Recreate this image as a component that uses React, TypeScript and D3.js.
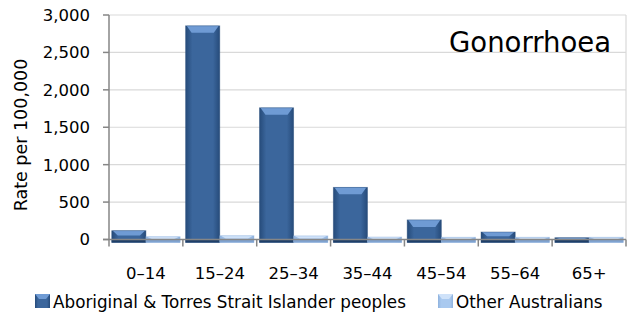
import React from "react";
import * as d3 from "d3";

const ageGroups = ["0–14", "15–24", "25–34", "35–44", "45–54", "55–64", "65+"];
const indigenousRates = [118, 2855, 1760, 697, 262, 100, 24];
const otherRates = [37, 50, 48, 33, 30, 30, 30];
const yTicks = [0, 500, 1000, 1500, 2000, 2500, 3000];
const seriesNames = ["Aboriginal & Torres Strait Islander peoples", "Other Australians"];

const W = 634;
const H = 315;
const margin = { top: 15, right: 8, bottom: 75.5, left: 109 };
const FONT = "DejaVu Sans, sans-serif";

const darkFill = { base: "#3b669c", edge: "#264b7a", top: "#6f9bd4", bottom: "#1f3f68" };
const lightFill = { base: "#a9c9ef", edge: "#8fb2de", top: "#cfe2f9", bottom: "#7fa2cf" };

function Bar({ x, y, w, h, pal, id }: { x: number; y: number; w: number; h: number; pal: typeof darkFill; id: string }) {
  const bevel = Math.min(7, h * 0.4);
  const inset = Math.min(6, w * 0.18);
  return (
    <g>
      <rect x={x} y={y} width={w} height={h} fill={`url(#${id})`} />
      <polygon
        points={`${x + 1},${y} ${x + w - 1},${y} ${x + w - inset},${y + bevel} ${x + inset},${y + bevel}`}
        fill={pal.top}
      />
      <rect x={x} y={y + h - 3} width={w} height={3} fill={pal.bottom} />
      <rect x={x} y={y} width={w} height={h} fill="none" stroke={pal.edge} strokeOpacity={0.5} strokeWidth={0.8} />
    </g>
  );
}

export default function App() {
  const innerW = W - margin.left - margin.right;
  const plotBottom = H - margin.bottom;

  const x = d3.scaleBand<string>().domain(ageGroups).range([margin.left, margin.left + innerW]).paddingInner(0).paddingOuter(0);
  const y = d3.scaleLinear().domain([0, 3000]).range([plotBottom, margin.top]);
  const inner = d3.scaleBand<string>().domain(["a", "b"]).range([0, x.bandwidth()]).paddingOuter(0.08).paddingInner(0);

  const depth = 3;

  return (
    <svg width={W} height={H} style={{ position: "absolute", left: 0, top: 0, background: "#fff" }}>
      <defs>
        {[["gDark", darkFill], ["gLight", lightFill]].map(([id, p]: any) => (
          <linearGradient key={id} id={id} x1="0" x2="1" y1="0" y2="0">
            <stop offset="0" stopColor={p.edge} />
            <stop offset="0.2" stopColor={p.base} />
            <stop offset="0.8" stopColor={p.base} />
            <stop offset="1" stopColor={p.edge} />
          </linearGradient>
        ))}
      </defs>

      {/* gridlines */}
      {yTicks.filter((t) => t > 0).map((t) => (
        <line key={t} x1={margin.left} x2={margin.left + innerW} y1={y(t)} y2={y(t)} stroke="#d9d9d9" strokeWidth={1.2} />
      ))}
      <line x1={margin.left + innerW} x2={margin.left + innerW} y1={margin.top} y2={plotBottom} stroke="#d9d9d9" strokeWidth={1.2} />

      {/* bars */}
      {ageGroups.map((g, i) => {
        const bx = x(g)!;
        const ya = y(indigenousRates[i]);
        const yb = y(otherRates[i]);
        return (
          <g key={g}>
            <Bar id="gDark" pal={darkFill} x={bx + inner("a")!} y={ya} w={inner.bandwidth()} h={plotBottom - ya + depth} />
            <Bar id="gLight" pal={lightFill} x={bx + inner("b")!} y={yb} w={inner.bandwidth()} h={plotBottom - yb + depth} />
          </g>
        );
      })}

      {/* axes */}
      <line x1={margin.left} x2={margin.left} y1={margin.top} y2={plotBottom + 7} stroke="#868686" strokeWidth={1.5} />
      <line x1={margin.left - 6} x2={margin.left + innerW} y1={plotBottom} y2={plotBottom} stroke="#868686" strokeWidth={1.5} />
      {yTicks.map((t) => (
        <g key={t}>
          <line x1={margin.left - 6} x2={margin.left} y1={y(t)} y2={y(t)} stroke="#868686" strokeWidth={1.5} />
          <text x={90} y={y(t)} dy="0.36em" textAnchor="end" fontFamily={FONT} fontSize={16.5} fill="#000">
            {d3.format(",")(t)}
          </text>
        </g>
      ))}
      {ageGroups.map((g) => (
        <g key={g}>
          <line x1={x(g)! + x.bandwidth()} x2={x(g)! + x.bandwidth()} y1={plotBottom} y2={plotBottom + 7} stroke="#868686" strokeWidth={1.5} />
          <text x={x(g)! + x.bandwidth() / 2} y={273} dy="0.36em" textAnchor="middle" fontFamily={FONT} fontSize={16.5} fill="#000">
            {g}
          </text>
        </g>
      ))}

      {/* y label */}
      <text transform="translate(21,135) rotate(-90)" dy="0.36em" textAnchor="middle" fontFamily={FONT} fontSize={17.5} fill="#000">
        Rate per 100,000
      </text>

      {/* title */}
      <text x={449} y={52} fontFamily={FONT} fontSize={27.5} fill="#000">Gonorrhoea</text>

      {/* legend */}
      <g>
        <rect x={35} y={294} width={15} height={14} fill="url(#gDark)" />
        <polygon points="35,294 50,294 46,299 39,299" fill={darkFill.top} />
        <text x={53} y={301.5} dy="0.36em" fontFamily={FONT} fontSize={16.8} fill="#000">{seriesNames[0]}</text>
        <rect x={438} y={294} width={15} height={14} fill="url(#gLight)" />
        <polygon points="438,294 453,294 449,299 442,299" fill={lightFill.top} />
        <text x={456} y={301.5} dy="0.36em" fontFamily={FONT} fontSize={16.8} fill="#000">{seriesNames[1]}</text>
      </g>
    </svg>
  );
}
